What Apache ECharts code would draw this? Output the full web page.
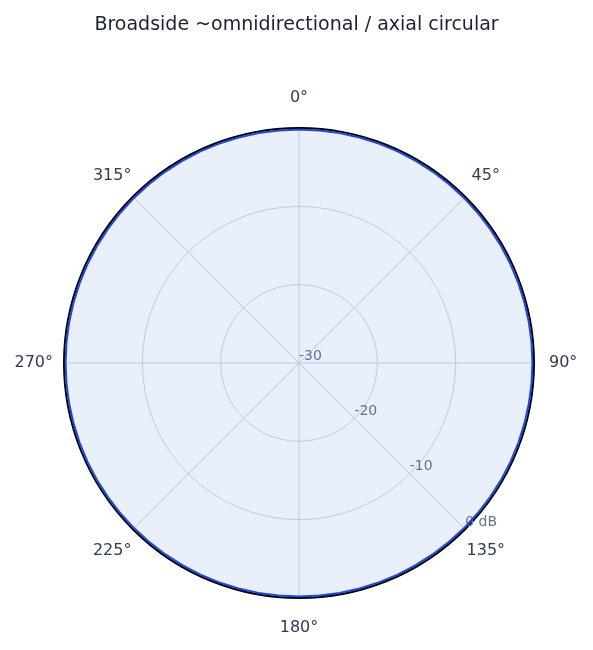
<!DOCTYPE html>
<html>
<head>
<meta charset="utf-8">
<script src="https://cdn.jsdelivr.net/npm/echarts@6/dist/echarts.min.js"></script>
<style>
  html, body { margin: 0; padding: 0; background: #fff; }
  #chart { width: 593px; height: 650px; }
</style>
</head>
<body>
<div id="chart"></div>
<script>
// 方向图数据（角度 / 增益dB），全向，略低于 0 dB
const angles = [0, 5, 10, 15, 20, 25, 30, 35, 40, 45, 50, 55, 60, 65, 70, 75, 80, 85,
  90, 95, 100, 105, 110, 115, 120, 125, 130, 135, 140, 145, 150, 155, 160, 165, 170, 175,
  180, 185, 190, 195, 200, 205, 210, 215, 220, 225, 230, 235, 240, 245, 250, 255, 260, 265,
  270, 275, 280, 285, 290, 295, 300, 305, 310, 315, 320, 325, 330, 335, 340, 345, 350, 355, 360]
const gainDb = [-0.2, -0.2, -0.2, -0.2, -0.2, -0.2, -0.2, -0.2, -0.2, -0.2, -0.2, -0.2,
  -0.2, -0.2, -0.2, -0.2, -0.2, -0.2, -0.2, -0.2, -0.2, -0.2, -0.2, -0.2,
  -0.2, -0.2, -0.2, -0.2, -0.2, -0.2, -0.2, -0.2, -0.2, -0.2, -0.2, -0.2,
  -0.2, -0.2, -0.2, -0.2, -0.2, -0.2, -0.2, -0.2, -0.2, -0.2, -0.2, -0.2,
  -0.2, -0.2, -0.2, -0.2, -0.2, -0.2, -0.2, -0.2, -0.2, -0.2, -0.2, -0.2,
  -0.2, -0.2, -0.2, -0.2, -0.2, -0.2, -0.2, -0.2, -0.2, -0.2, -0.2, -0.2, -0.2]
const radiusTicks = [-30, -20, -10, 0]

// 角度标签的外扩间距（按方向微调）
const labelPad = {
  0: [0, 0, 20, 0],
  45: [0, 0, 12, 5],
  90: [0, 0, 0, 13],
  135: [12, 0, 0, 0],
  180: [20, 0, 0, 0],
  225: [12, 0, 0, 0],
  270: [0, 9, 0, 0],
  315: [0, 0, 12, 0]
}

const chart = echarts.init(document.getElementById('chart'))

const center = [299, 363]
const radius = 235

const rich = {}
Object.keys(labelPad).forEach(k => {
  rich['a' + k] = { fontSize: 16, color: '#2f3b52', padding: labelPad[k] }
})

chart.setOption({
  animation: false,
  textStyle: { fontFamily: 'DejaVu Sans' },
  title: {
    text: 'Broadside ~omnidirectional / axial circular',
    left: 'center',
    top: 11,
    textStyle: { fontSize: 19, fontWeight: 'normal', color: '#1b2135' }
  },
  polar: [
    { center: center, radius: radius },
    { center: center, radius: radius }
  ],
  angleAxis: [
    {
      polarIndex: 0,
      type: 'value',
      min: 0,
      max: 360,
      interval: 45,
      startAngle: 90,
      clockwise: true,
      axisLine: { lineStyle: { color: '#000', width: 2 } },
      axisTick: { show: false },
      axisLabel: {
        margin: 2,
        fontSize: 16,
        color: '#2f3b52',
        formatter: v => '{a' + v + '|' + v + '°}',
        rich: rich
      },
      splitLine: { lineStyle: { color: '#cfd5e1', width: 1 } }
    },
    {
      polarIndex: 1,
      type: 'value',
      min: 0,
      max: 360,
      startAngle: -45,
      show: false
    }
  ],
  radiusAxis: [
    {
      polarIndex: 0,
      type: 'value',
      min: radiusTicks[0],
      max: radiusTicks[radiusTicks.length - 1],
      interval: 10,
      axisLine: { show: false },
      axisTick: { show: false },
      axisLabel: { show: false },
      splitLine: { lineStyle: { color: '#cfd5e1', width: 1 } }
    },
    {
      polarIndex: 1,
      type: 'value',
      min: radiusTicks[0],
      max: radiusTicks[radiusTicks.length - 1],
      interval: 10,
      axisLine: { show: false },
      axisTick: { show: false },
      splitLine: { show: false },
      axisLabel: {
        fontSize: 14,
        color: '#66738a',
        align: 'left',
        verticalAlign: 'bottom',
        margin: 0,
        formatter: v => (v === 0 ? '0 dB' : String(v))
      }
    }
  ],
  series: [{
    type: 'line',
    coordinateSystem: 'polar',
    polarIndex: 0,
    data: angles.map((a, i) => [gainDb[i], a]),
    symbol: 'none',
    lineStyle: { color: '#1f48d6', width: 2 },
    areaStyle: { color: 'rgba(40, 90, 220, 0.14)', origin: 'start' },
    z: 1
  }]
})
</script>
</body>
</html>
